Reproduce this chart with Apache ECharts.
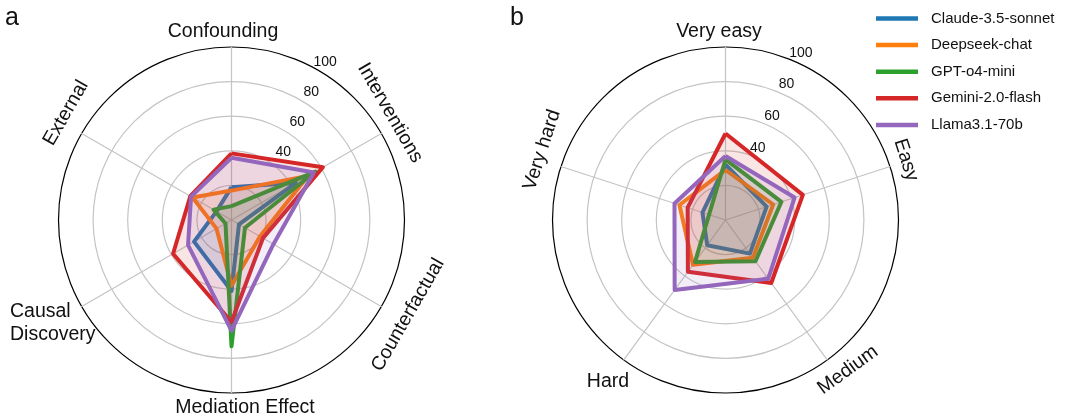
<!DOCTYPE html>
<html>
<head>
<meta charset="utf-8">
<script src="https://cdn.jsdelivr.net/npm/echarts@6.0.0/dist/echarts.min.js"></script>
<style>
  html, body { margin: 0; padding: 0; background: #fff; }
  #main { width: 1065px; height: 418px; }
</style>
</head>
<body>
<div id="main"></div>
<script>
// axes listed clockwise from the top, as in the figure
const typeAxes = ['Confounding', 'Interventions', 'Counterfactual', 'Mediation Effect', 'Causal Discovery', 'External']
const levelAxes = ['Very easy', 'Easy', 'Medium', 'Hard', 'Very hard']

const models = ['Claude-3.5-sonnet', 'Deepseek-chat', 'GPT-o4-mini', 'Gemini-2.0-flash', 'Llama3.1-70b']

// panel a: score by question type
const claudeA   = [19, 43, 5, 41, 25, 10]
const deepseekA = [17, 51, 19, 38, 10, 26]
const gptA      = [8, 56, 9, 73, 4, 12]
const geminiA   = [38.5, 61, 21, 59, 39, 27.5]
const llamaA    = [36, 55, 28, 64, 29, 27]

// panel b: score by difficulty
const claudeB   = [32, 25, 24, 18, 14]
const deepseekB = [29, 29, 27, 32, 28]
const gptB      = [35, 34, 29.5, 30, 10]
const geminiB   = [50, 47, 45, 37, 23]
const llamaB    = [37, 42, 42, 50, 31]

const radialTicks = [40, 60, 80, 100]

const colors = ['#1f77b4', '#ff7f0e', '#2ca02c', '#d62728', '#9467bd']
const FONT = '"Liberation Sans", Arial, Helvetica, sans-serif'
const GRAY = '#c4c4c4'
const R = 173

// echarts lays radar indicators counter-clockwise, so flip the order after the first one
const ccw = arr => [arr[0]].concat(arr.slice(1).reverse())

function makeRadar(center, axes) {
  return {
    center: center,
    radius: R,
    startAngle: 90,
    shape: 'circle',
    splitNumber: 5,
    indicator: ccw(axes).map(n => ({ name: n, min: 0, max: 100 })),
    axisName: { show: false },
    splitArea: { show: false },
    // one colour per ring from the centre out: 0,20,40,60,80,100
    splitLine: { lineStyle: { color: [GRAY, GRAY, GRAY, GRAY, GRAY, '#000'], width: 1.2 } },
    axisLine: { lineStyle: { color: GRAY, width: 1.2 } },
    axisTick: { show: false },
    axisLabel: { show: false }
  }
}

function makeSeries(radarIndex, sets) {
  return sets.map((vals, i) => ({
    type: 'radar',
    radarIndex: radarIndex,
    name: models[i],
    symbol: 'none',
    z: 2 + i,
    lineStyle: { width: 4, color: colors[i] },
    itemStyle: { color: colors[i] },
    areaStyle: { color: colors[i], opacity: 0.12 },
    data: [{ name: models[i], value: ccw(vals) }]
  }))
}

// polar systems only carry the radial tick labels
function tickAngle(polarIndex, startAngle) {
  return {
    polarIndex: polarIndex, type: 'value', min: 0, max: 360, startAngle: startAngle,
    axisLine: { show: false }, axisTick: { show: false }, axisLabel: { show: false }, splitLine: { show: false }
  }
}
function tickRadius(polarIndex) {
  return {
    polarIndex: polarIndex, type: 'value', min: 0, max: 100, interval: 20,
    axisLine: { show: false }, axisTick: { show: false }, splitLine: { show: false },
    axisLabel: {
      show: true, margin: 0, align: 'center', verticalAlign: 'middle',
      showMinLabel: true, showMaxLabel: true,
      fontSize: 14, fontFamily: FONT, color: '#111',
      formatter: v => radialTicks.indexOf(v) >= 0 ? String(v) : ''
    },
    z: 20
  }
}

// axis name placement (text layout only)
const typeNamePos = [
  { x: 223, y: 32, rot: 0 },
  { x: 390, y: 113, rot: -60 },
  { x: 408, y: 315, rot: 60 },
  { x: 245, y: 408, rot: 0 },
  { x: 10, y: 323, rot: 0, align: 'left', text: 'Causal\nDiscovery' },
  { x: 66, y: 113, rot: 60 }
]
const levelNamePos = [
  { x: 719, y: 32, rot: 0 },
  { x: 906, y: 160, rot: -72 },
  { x: 848, y: 370, rot: 36 },
  { x: 608, y: 382, rot: 0 },
  { x: 542, y: 150, rot: 72 }
]

function nameText(names, pos) {
  return names.map((n, i) => ({
    type: 'text',
    x: pos[i].x, y: pos[i].y,
    rotation: pos[i].rot * Math.PI / 180,
    style: {
      text: pos[i].text || n,
      font: '19.5px ' + FONT,
      fill: '#111',
      align: pos[i].align || 'center',
      verticalAlign: 'middle',
      lineHeight: 23
    }
  }))
}

const chart = echarts.init(document.getElementById('main'), null, { renderer: 'canvas' })

chart.setOption({
  animation: false,
  backgroundColor: '#fff',
  legend: {
    data: models,
    orient: 'vertical',
    left: 871,
    top: 6,
    icon: 'rect',
    itemWidth: 42,
    itemHeight: 4.5,
    itemGap: 11.6,
    textStyle: { fontSize: 15, fontFamily: FONT, color: '#111', padding: [0, 0, 0, 8] }
  },
  radar: [
    makeRadar([231.5, 220], typeAxes),
    makeRadar([725.5, 220], levelAxes)
  ],
  polar: [
    { center: [255.5, 211.7], radius: 165.3 },
    { center: [728.9, 212], radius: 174.8 }
  ],
  angleAxis: [tickAngle(0, 65.1), tickAngle(1, 65.7)],
  radiusAxis: [tickRadius(0), tickRadius(1)],
  series: makeSeries(0, [claudeA, deepseekA, gptA, geminiA, llamaA])
    .concat(makeSeries(1, [claudeB, deepseekB, gptB, geminiB, llamaB])),
  graphic: nameText(typeAxes, typeNamePos)
    .concat(nameText(levelAxes, levelNamePos))
    .concat([
      { type: 'text', x: 5, y: 18, style: { text: 'a', font: '25px ' + FONT, fill: '#111', align: 'left', verticalAlign: 'middle' } },
      { type: 'text', x: 510, y: 18, style: { text: 'b', font: '25px ' + FONT, fill: '#111', align: 'left', verticalAlign: 'middle' } }
    ])
})
</script>
</body>
</html>
